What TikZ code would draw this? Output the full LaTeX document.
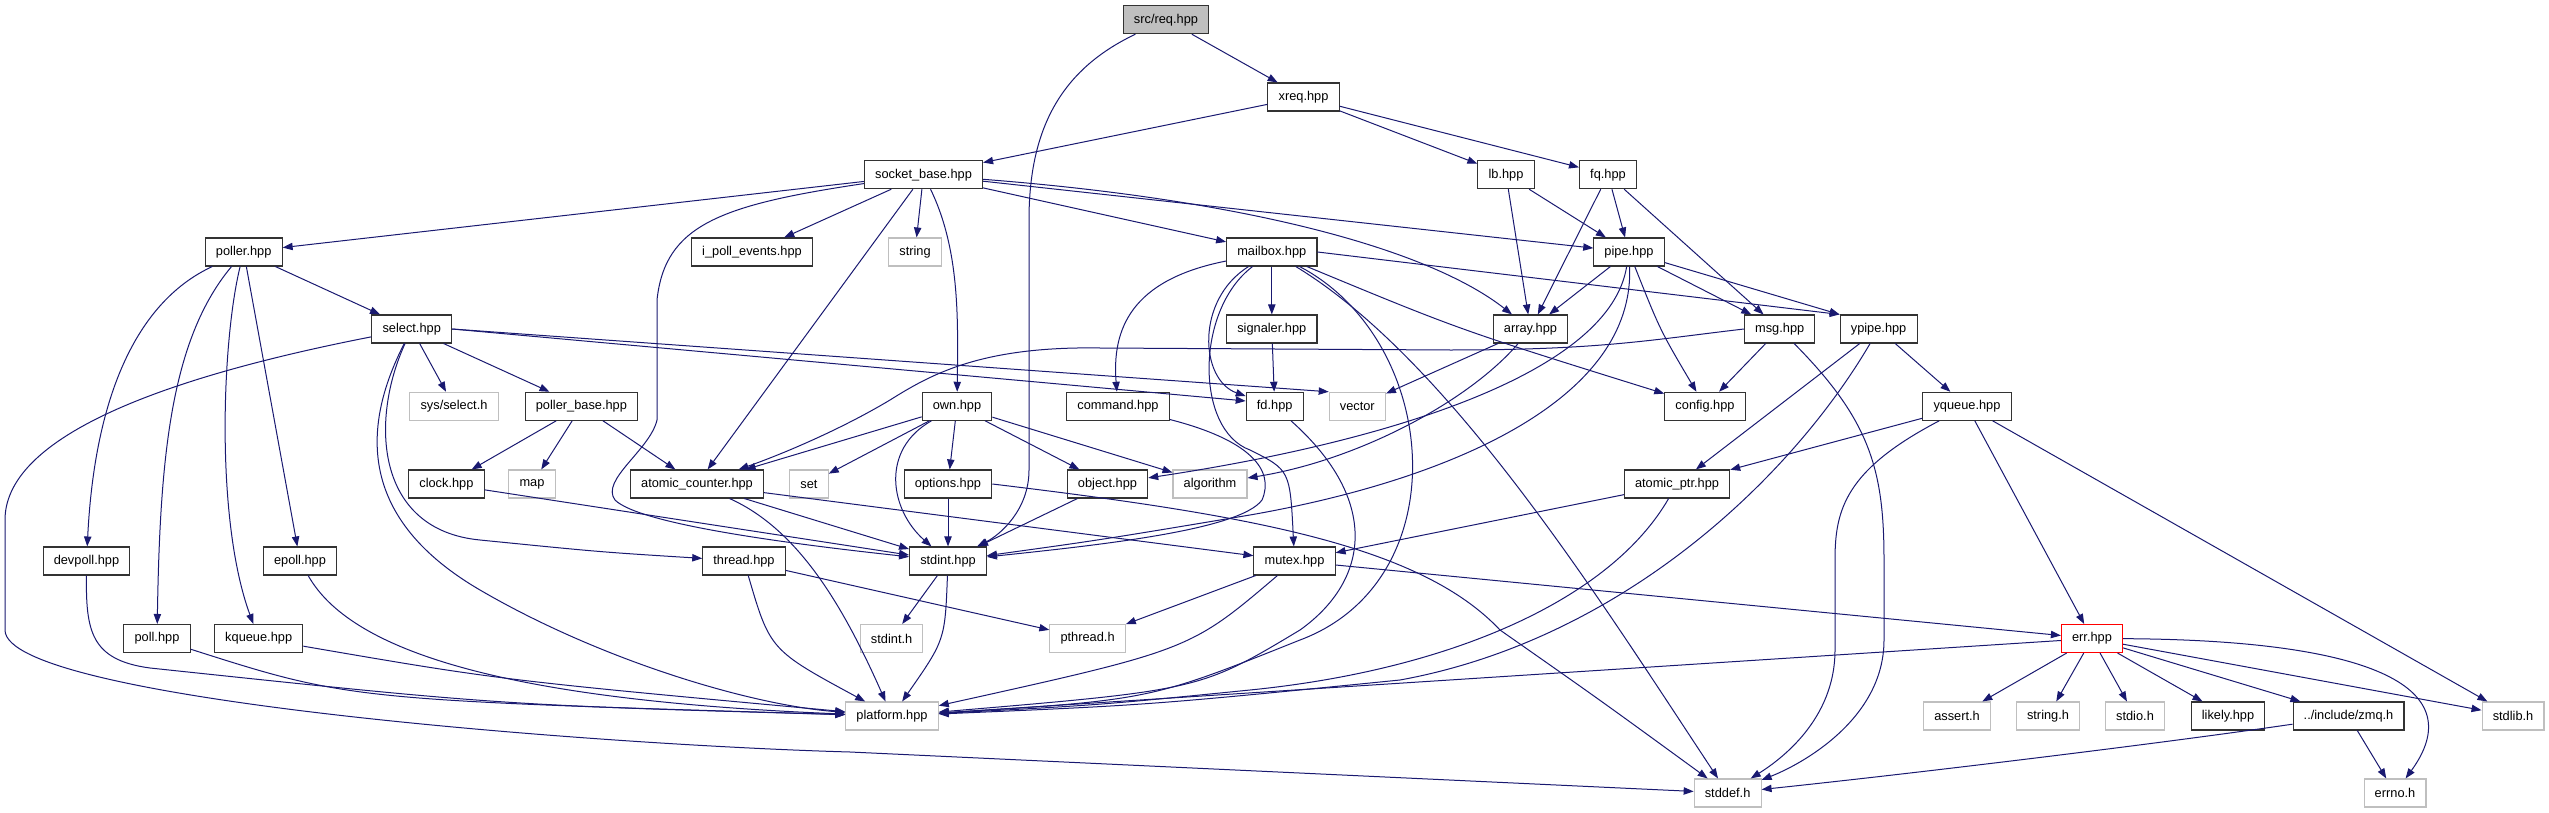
\documentclass[tikz,border=0pt]{standalone}
\usepackage{fontspec}
\setmainfont{Liberation Sans}
\usetikzlibrary{arrows.meta}
\definecolor{edgeblue}{RGB}{25,25,112}
\definecolor{boxgray}{RGB}{191,191,191}
\begin{document}
\begin{tikzpicture}[x=0.75pt,y=-0.75pt,
    hdr/.style={draw=black!80, line width=0.8pt, fill=white, minimum height=21pt, inner xsep=8pt, inner ysep=0pt, font=\fontsize{9.6}{11}\selectfont},
    sys/.style={hdr, draw=boxgray},
    dep/.style={edgeblue, line width=0.75pt, -{Triangle[length=7.5pt,width=5.5pt]}}]
                \useasboundingbox (0,0) rectangle (2549,813);

                \node[hdr, fill=boxgray] (req) at (1166,19.7) {src/req.hpp};
                \node[hdr] (xreq) at (1303.5,97) {xreq.hpp};
                \node[hdr] (sockbase) at (923.5,174.7) {socket\_base.hpp};
                \node[hdr] (lb) at (1506,174.7) {lb.hpp};
                \node[hdr] (fq) at (1608,174.7) {fq.hpp};
                \node[hdr] (poller) at (243.7,252) {poller.hpp};
                \node[hdr] (ipoll) at (752,252) {i\_poll\_events.hpp};
                \node[sys] (string) at (915,252) {string};
                \node[hdr] (mailbox) at (1271.8,252) {mailbox.hpp};
                \node[hdr] (pipe) at (1629,252) {pipe.hpp};
                \node[hdr] (select) at (411.7,329) {select.hpp};
                \node[hdr] (signaler) at (1271.8,329) {signaler.hpp};
                \node[hdr] (array) at (1530.5,329) {array.hpp};
                \node[hdr] (msg) at (1779.7,329) {msg.hpp};
                \node[hdr] (ypipe) at (1878.6,329) {ypipe.hpp};
                \node[sys] (sysselect) at (454,406.3) {sys/select.h};
                \node[hdr] (pollerbase) at (581.4,406.3) {poller\_base.hpp};
                \node[hdr] (own) at (957,406.3) {own.hpp};
                \node[hdr] (command) at (1118,406.3) {command.hpp};
                \node[hdr] (fd) at (1274.7,406.3) {fd.hpp};
                \node[sys] (vector) at (1357.3,406.3) {vector};
                \node[hdr] (config) at (1705,406.3) {config.hpp};
                \node[hdr] (yqueue) at (1967,406.3) {yqueue.hpp};
                \node[hdr] (clock) at (446.4,484) {clock.hpp};
                \node[sys] (map) at (532,484) {map};
                \node[hdr] (atomcnt) at (697,484) {atomic\_counter.hpp};
                \node[sys] (set) at (809,484) {set};
                \node[hdr] (options) at (948,484) {options.hpp};
                \node[hdr] (object) at (1107.5,484) {object.hpp};
                \node[sys] (algorithm) at (1210,484) {algorithm};
                \node[hdr] (atomptr) at (1677,484) {atomic\_ptr.hpp};
                \node[hdr] (devpoll) at (86.5,561) {devpoll.hpp};
                \node[hdr] (epoll) at (300,561) {epoll.hpp};
                \node[hdr] (thread) at (744,561) {thread.hpp};
                \node[hdr] (stdinthpp) at (948,561) {stdint.hpp};
                \node[hdr] (mutex) at (1294.5,561) {mutex.hpp};
                \node[hdr] (poll) at (157,638.5) {poll.hpp};
                \node[hdr] (kqueue) at (258.7,638.5) {kqueue.hpp};
                \node[sys] (stdinth) at (891.6,638.5) {stdint.h};
                \node[sys] (pthread) at (1087.6,638.5) {pthread.h};
                \node[hdr, draw=red] (err) at (2092,638.5) {err.hpp};
                \node[sys] (platform) at (892,716) {platform.hpp};
                \node[sys] (assert) at (1957,716) {assert.h};
                \node[sys] (stringh) at (2048,716) {string.h};
                \node[sys] (stdio) at (2135,716) {stdio.h};
                \node[hdr] (likely) at (2228,716) {likely.hpp};
                \node[hdr] (zmq) at (2348.5,716) {../include/zmq.h};
                \node[sys] (stdlib) at (2513,716) {stdlib.h};
                \node[sys] (stddef) at (1727.6,793) {stddef.h};
                \node[sys] (errno) at (2395,793) {errno.h};

                \draw[dep] (req) -- (xreq);
                \draw[dep] (req) .. controls (1060,70) and (1029,130) .. (1029,220) -- (1029,470) .. controls (1029,510) and (1000,535) .. (stdinthpp);
                \draw[dep] (xreq) -- (sockbase);
                \draw[dep] (xreq) -- (lb);
                \draw[dep] (xreq) -- (fq);

                \draw[dep] (sockbase) -- (poller);
                \draw[dep] (sockbase) -- (ipoll);
                \draw[dep] (sockbase) -- (string);
                \draw[dep] (sockbase) .. controls (960,250) and (958,320) .. (own);
                \draw[dep] (sockbase) -- (mailbox);
                \draw[dep] (sockbase) -- (pipe);
                \draw[dep] (sockbase) .. controls (1250,200) and (1430,250) .. (array);
                \draw[dep] (sockbase) -- (atomcnt);
                \draw[dep] (sockbase) .. controls (720,205) and (665,225) .. (657,300) -- (657,420) .. controls (650,450) and (600,480) .. (615,500) .. controls (640,525) and (800,545) .. (stdinthpp);

                \draw[dep] (lb) -- (array);
                \draw[dep] (lb) -- (pipe);
                \draw[dep] (fq) -- (array);
                \draw[dep] (fq) -- (pipe);
                \draw[dep] (fq) -- (msg);

                \draw[dep] (pipe) -- (array);
                \draw[dep] (pipe) -- (msg);
                \draw[dep] (pipe) -- (ypipe.north west);
                \draw[dep] (pipe) .. controls (1660,330) .. (config);
                \draw[dep] (pipe) .. controls (1610,370) and (1400,440) .. (object);
                \draw[dep] (pipe) .. controls (1635,400) and (1450,480) .. (1250,515) .. controls (1100,540) .. (stdinthpp);

                \draw[dep] (mailbox) -- (signaler);
                \draw[dep] (mailbox) .. controls (1130,280) and (1112,330) .. (command);
                \draw[dep] (mailbox) .. controls (1195,300) and (1200,380) .. (fd);
                \draw[dep] (mailbox) .. controls (1195,310) and (1195,430) .. (1250,450) .. controls (1290,470) .. (mutex);
                \draw[dep] (mailbox) .. controls (1440,340) and (1460,580) .. (1300,640) .. controls (1150,700) .. (platform);
                \draw[dep] (mailbox) .. controls (1450,360) and (1600,600) .. (stddef);
                \draw[dep] (mailbox) .. controls (1460,330) .. (config);
                \draw[dep] (mailbox.east) -- (ypipe.north west);

                \draw[dep] (signaler) -- (fd);
                \draw[dep] (array) -- (vector);
                \draw[dep] (array) .. controls (1470,400) and (1360,460) .. (algorithm);
                \draw[dep] (msg.west) .. controls (1650,340) and (1600,350) .. (1450,350) -- (1100,348) .. controls (980,346) and (930,375) .. (890,400) .. controls (840,430) and (780,455) .. (atomcnt);
                \draw[dep] (msg) -- (config);
                \draw[dep] (msg) .. controls (1870,420) and (1884,470) .. (1884,560) -- (1884,640) .. controls (1884,720) and (1800,765) .. (stddef);
                \draw[dep] (ypipe) -- (atomptr);
                \draw[dep] (ypipe) -- (yqueue);
                \draw[dep] (ypipe) .. controls (1790,480) and (1620,640) .. (1400,680) .. controls (1150,705) .. (platform);
                \draw[dep] (yqueue) -- (atomptr);
                \draw[dep] (yqueue) -- (err);
                \draw[dep] (yqueue) -- (stdlib);
                \draw[dep] (yqueue) .. controls (1845,470) and (1835,510) .. (1835,560) -- (1835,650) .. controls (1835,720) and (1780,760) .. (stddef);

                \draw[dep] (atomptr) -- (mutex);
                \draw[dep] (atomptr) .. controls (1610,600) and (1450,670) .. (1250,690) .. controls (1100,705) .. (platform);
                \draw[dep] (mutex) -- (err);
                \draw[dep] (mutex) -- (pthread);
                \draw[dep] (mutex) .. controls (1190,650) .. (platform);
                \draw[dep] (err) -- (platform);
                \draw[dep] (err) -- (assert);
                \draw[dep] (err) -- (stringh);
                \draw[dep] (err) -- (stdio);
                \draw[dep] (err) -- (likely);
                \draw[dep] (err) -- (zmq);
                \draw[dep] (err) -- (stdlib);
                \draw[dep] (err) .. controls (2380,640) and (2470,690) .. (errno);
                \draw[dep] (zmq) .. controls (2150,745) and (1900,775) .. (stddef);
                \draw[dep] (zmq) -- (errno);

                \draw[dep] (own) -- (atomcnt);
                \draw[dep] (own) -- (set);
                \draw[dep] (own) .. controls (880,450) and (890,510) .. (stdinthpp);
                \draw[dep] (own) -- (options);
                \draw[dep] (own) -- (object);
                \draw[dep] (own) -- (algorithm);
                \draw[dep] (options) -- (stdinthpp);
                \draw[dep] (options.east) .. controls (1250,515) and (1420,545) .. (1500,630) .. controls (1600,700) .. (stddef);
                \draw[dep] (object) -- (stdinthpp);
                \draw[dep] (command) .. controls (1250,440) and (1275,470) .. (1262,500) .. controls (1240,530) and (1100,545) .. (stdinthpp);
                \draw[dep] (fd) .. controls (1380,500) and (1370,580) .. (1300,630) .. controls (1200,690) .. (platform);

                \draw[dep] (stdinthpp) -- (stdinth);
                \draw[dep] (stdinthpp) .. controls (945,640) .. (platform);
                \draw[dep] (thread) -- (pthread);
                \draw[dep] (thread) .. controls (770,650) .. (platform);
                \draw[dep] (atomcnt) -- (stdinthpp);
                \draw[dep] (atomcnt) -- (mutex);
                \draw[dep] (atomcnt) .. controls (800,530) and (845,610) .. (platform);
                \draw[dep] (clock) -- (stdinthpp);
                \draw[dep] (pollerbase) -- (clock);
                \draw[dep] (pollerbase) -- (map);
                \draw[dep] (pollerbase) -- (atomcnt);

                \draw[dep] (select) -- (sysselect);
                \draw[dep] (select) -- (pollerbase);
                \draw[dep] (select.east) -- ([yshift=4pt]fd.west);
                \draw[dep] (select.east) -- (vector.north west);
                \draw[dep] (select) .. controls (370,420) and (375,530) .. (480,540) .. controls (600,552) .. (thread);
                \draw[dep] (select) .. controls (360,430) and (360,520) .. (480,590) .. controls (600,660) and (750,705) .. (platform);
                \draw[dep] (select) .. controls (150,380) and (5,440) .. (5,520) -- (5,630) .. controls (5,700) and (600,745) .. (850,752) -- (stddef);
                \draw[dep] (poller) -- (select);
                \draw[dep] (poller) .. controls (140,300) and (95,390) .. (devpoll);
                \draw[dep] (poller) .. controls (170,340) and (160,460) .. (poll);
                \draw[dep] (poller) .. controls (222,340) and (215,520) .. (kqueue);
                \draw[dep] (poller) -- (epoll);
                \draw[dep] (devpoll) .. controls (86,630) and (90,660) .. (150,668) .. controls (500,705) .. (platform);
                \draw[dep] (poll) .. controls (350,700) .. (platform);
                \draw[dep] (kqueue) .. controls (500,680) .. (platform);
                \draw[dep] (epoll) .. controls (350,650) and (500,700) .. (platform);
            \end{tikzpicture}
\end{document}
